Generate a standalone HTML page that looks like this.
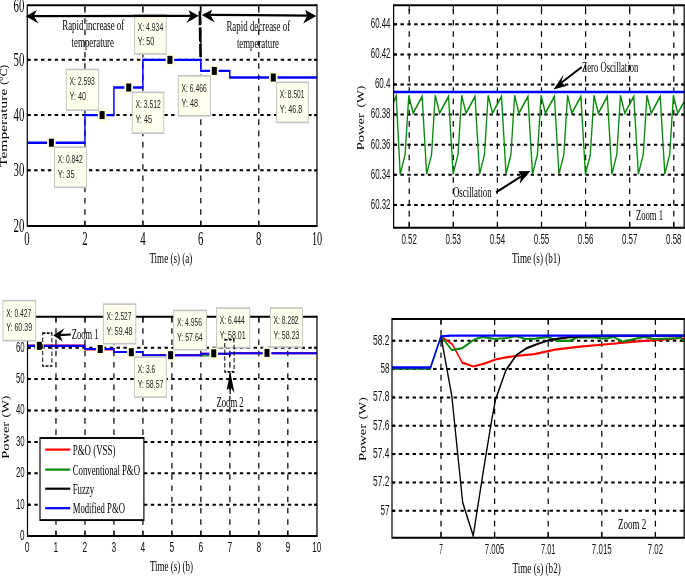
<!DOCTYPE html>
<html><head><meta charset="utf-8"><style>
html,body{margin:0;padding:0;background:#fff;}
body{width:685px;height:576px;overflow:hidden;}
svg{display:block;will-change:transform;}
</style></head><body>
<svg width="685" height="576" viewBox="0 0 685 576">
<rect x="0" y="0" width="685" height="576" fill="#fff"/>
<g transform="scale(0.61,1)">
<line x1="44.75" y1="59.85" x2="519.67" y2="59.85" stroke="#000" stroke-width="2" stroke-linecap="butt" stroke-dasharray="5.615 5.615"/>
<line x1="44.75" y1="115.1" x2="519.67" y2="115.1" stroke="#000" stroke-width="2" stroke-linecap="butt" stroke-dasharray="5.615 5.615"/>
<line x1="44.75" y1="170.35" x2="519.67" y2="170.35" stroke="#000" stroke-width="2" stroke-linecap="butt" stroke-dasharray="5.615 5.615"/>
<line x1="139.25" y1="226" x2="139.25" y2="5.3" stroke="#000" stroke-width="2" stroke-linecap="butt" stroke-dasharray="5.615 5.615"/>
<line x1="234.23" y1="226" x2="234.23" y2="5.3" stroke="#000" stroke-width="2" stroke-linecap="butt" stroke-dasharray="5.615 5.615"/>
<line x1="329.21" y1="226" x2="329.21" y2="5.3" stroke="#000" stroke-width="2" stroke-linecap="butt" stroke-dasharray="5.615 5.615"/>
<line x1="424.2" y1="226" x2="424.2" y2="5.3" stroke="#000" stroke-width="2" stroke-linecap="butt" stroke-dasharray="5.615 5.615"/>
<line x1="139.25" y1="5.3" x2="139.25" y2="10.3" stroke="#000" stroke-width="1.6" stroke-linecap="butt"/>
<line x1="139.25" y1="226" x2="139.25" y2="221" stroke="#000" stroke-width="1.6" stroke-linecap="butt"/>
<line x1="234.23" y1="5.3" x2="234.23" y2="10.3" stroke="#000" stroke-width="1.6" stroke-linecap="butt"/>
<line x1="234.23" y1="226" x2="234.23" y2="221" stroke="#000" stroke-width="1.6" stroke-linecap="butt"/>
<line x1="329.21" y1="5.3" x2="329.21" y2="10.3" stroke="#000" stroke-width="1.6" stroke-linecap="butt"/>
<line x1="329.21" y1="226" x2="329.21" y2="221" stroke="#000" stroke-width="1.6" stroke-linecap="butt"/>
<line x1="424.2" y1="5.3" x2="424.2" y2="10.3" stroke="#000" stroke-width="1.6" stroke-linecap="butt"/>
<line x1="424.2" y1="226" x2="424.2" y2="221" stroke="#000" stroke-width="1.6" stroke-linecap="butt"/>
<line x1="44.75" y1="59.85" x2="49.67" y2="59.85" stroke="#000" stroke-width="2" stroke-linecap="butt"/>
<line x1="519.67" y1="59.85" x2="514.75" y2="59.85" stroke="#000" stroke-width="2" stroke-linecap="butt"/>
<line x1="44.75" y1="115.1" x2="49.67" y2="115.1" stroke="#000" stroke-width="2" stroke-linecap="butt"/>
<line x1="519.67" y1="115.1" x2="514.75" y2="115.1" stroke="#000" stroke-width="2" stroke-linecap="butt"/>
<line x1="44.75" y1="170.35" x2="49.67" y2="170.35" stroke="#000" stroke-width="2" stroke-linecap="butt"/>
<line x1="519.67" y1="170.35" x2="514.75" y2="170.35" stroke="#000" stroke-width="2" stroke-linecap="butt"/>
<polyline points="44.75,142.72 139.25,142.72 139.25,115.1 186.74,115.1 186.74,87.47 234.23,87.47 234.23,59.85 329.21,59.85 329.21,70.9 376.7,70.9 376.7,77.53 519.67,77.53" fill="none" stroke="#0000FF" stroke-width="2.4" stroke-linejoin="miter"/>
<line x1="328.52" y1="5.3" x2="328.52" y2="11" stroke="#000" stroke-width="2" stroke-linecap="butt"/>
<line x1="327.54" y1="11.1" x2="328.85" y2="57" stroke="#000" stroke-width="4.3" stroke-linecap="butt" stroke-dasharray="14.2 2.1"/>
<line x1="44.75" y1="5.3" x2="519.67" y2="5.3" stroke="#000" stroke-width="2" stroke-linecap="butt"/>
<line x1="44.75" y1="226" x2="519.67" y2="226" stroke="#000" stroke-width="2" stroke-linecap="butt"/>
<line x1="44.75" y1="4.3" x2="44.75" y2="227" stroke="#000" stroke-width="2" stroke-linecap="butt"/>
<line x1="519.67" y1="4.3" x2="519.67" y2="227" stroke="#000" stroke-width="2" stroke-linecap="butt"/>
<rect x="77.2" y="136.92" width="14.1" height="12.6" fill="#FFFFE2" stroke="none" stroke-width="1"/>
<rect x="80.15" y="138.72" width="8.2" height="8" fill="#000" stroke="none" stroke-width="1"/>
<rect x="160.36" y="109.3" width="14.1" height="12.6" fill="#FFFFE2" stroke="none" stroke-width="1"/>
<rect x="163.31" y="111.1" width="8.2" height="8" fill="#000" stroke="none" stroke-width="1"/>
<rect x="204" y="81.67" width="14.1" height="12.6" fill="#FFFFE2" stroke="none" stroke-width="1"/>
<rect x="206.96" y="83.47" width="8.2" height="8" fill="#000" stroke="none" stroke-width="1"/>
<rect x="271.54" y="54.05" width="14.1" height="12.6" fill="#FFFFE2" stroke="none" stroke-width="1"/>
<rect x="274.49" y="55.85" width="8.2" height="8" fill="#000" stroke="none" stroke-width="1"/>
<rect x="344.3" y="65.1" width="14.1" height="12.6" fill="#FFFFE2" stroke="none" stroke-width="1"/>
<rect x="347.25" y="66.9" width="8.2" height="8" fill="#000" stroke="none" stroke-width="1"/>
<rect x="440.94" y="71.73" width="14.1" height="12.6" fill="#FFFFE2" stroke="none" stroke-width="1"/>
<rect x="443.89" y="73.53" width="8.2" height="8" fill="#000" stroke="none" stroke-width="1"/>
<rect x="89.51" y="147.2" width="52.13" height="40.1" fill="#FFFFEE" stroke="#C4C4C4" stroke-width="1.6"/>
<text x="94.75" y="163.2" font-family="&quot;Liberation Sans&quot;, sans-serif" font-size="11.5" fill="#222" text-anchor="start" textLength="40.98" lengthAdjust="spacingAndGlyphs">X: 0.842</text>
<text x="94.75" y="178" font-family="&quot;Liberation Sans&quot;, sans-serif" font-size="11.5" fill="#222" text-anchor="start" textLength="27.38" lengthAdjust="spacingAndGlyphs">Y: 35</text>
<rect x="108.69" y="69.5" width="53.11" height="40.6" fill="#FFFFEE" stroke="#C4C4C4" stroke-width="1.6"/>
<text x="113.93" y="85.5" font-family="&quot;Liberation Sans&quot;, sans-serif" font-size="11.5" fill="#222" text-anchor="start" textLength="41.64" lengthAdjust="spacingAndGlyphs">X: 2.593</text>
<text x="113.93" y="100.3" font-family="&quot;Liberation Sans&quot;, sans-serif" font-size="11.5" fill="#222" text-anchor="start" textLength="27.21" lengthAdjust="spacingAndGlyphs">Y: 40</text>
<rect x="216.72" y="92.4" width="51.8" height="40.8" fill="#FFFFEE" stroke="#C4C4C4" stroke-width="1.6"/>
<text x="221.97" y="108.4" font-family="&quot;Liberation Sans&quot;, sans-serif" font-size="11.5" fill="#222" text-anchor="start" textLength="41.64" lengthAdjust="spacingAndGlyphs">X: 3.512</text>
<text x="221.97" y="123.2" font-family="&quot;Liberation Sans&quot;, sans-serif" font-size="11.5" fill="#222" text-anchor="start" textLength="27.21" lengthAdjust="spacingAndGlyphs">Y: 45</text>
<rect x="220.66" y="14.6" width="51.8" height="39.4" fill="#FFFFEE" stroke="#C4C4C4" stroke-width="1.6"/>
<text x="225.9" y="30.6" font-family="&quot;Liberation Sans&quot;, sans-serif" font-size="11.5" fill="#222" text-anchor="start" textLength="41.64" lengthAdjust="spacingAndGlyphs">X: 4.934</text>
<text x="225.9" y="45.4" font-family="&quot;Liberation Sans&quot;, sans-serif" font-size="11.5" fill="#222" text-anchor="start" textLength="27.21" lengthAdjust="spacingAndGlyphs">Y: 50</text>
<rect x="292.3" y="75.8" width="52.79" height="40" fill="#FFFFEE" stroke="#C4C4C4" stroke-width="1.6"/>
<text x="297.54" y="91.8" font-family="&quot;Liberation Sans&quot;, sans-serif" font-size="11.5" fill="#222" text-anchor="start" textLength="41.64" lengthAdjust="spacingAndGlyphs">X: 6.466</text>
<text x="297.54" y="106.6" font-family="&quot;Liberation Sans&quot;, sans-serif" font-size="11.5" fill="#222" text-anchor="start" textLength="27.21" lengthAdjust="spacingAndGlyphs">Y: 48</text>
<rect x="453.44" y="82.3" width="52.13" height="40.1" fill="#FFFFEE" stroke="#C4C4C4" stroke-width="1.6"/>
<text x="458.69" y="98.3" font-family="&quot;Liberation Sans&quot;, sans-serif" font-size="11.5" fill="#222" text-anchor="start" textLength="40.33" lengthAdjust="spacingAndGlyphs">X: 8.501</text>
<text x="458.69" y="113.1" font-family="&quot;Liberation Sans&quot;, sans-serif" font-size="11.5" fill="#222" text-anchor="start" textLength="36.89" lengthAdjust="spacingAndGlyphs">Y: 46.8</text>
<line x1="50.82" y1="16.1" x2="314.75" y2="15.8" stroke="#000" stroke-width="2.2" stroke-linecap="butt"/>
<polygon points="42.3,16.2 60.33,10.1 55.25,16.1 63.11,23.5" fill="#000" stroke="none"/>
<polygon points="325.9,15.8 309.02,10.3 312.79,15.8 305.57,23.1" fill="#000" stroke="none"/>
<line x1="340.98" y1="14.8" x2="508.2" y2="15.6" stroke="#000" stroke-width="2.2" stroke-linecap="butt"/>
<polygon points="330.82,14.9 347.7,9.7 344.59,14.8 351.97,22.5" fill="#000" stroke="none"/>
<polygon points="518.52,16 500.33,9.9 503.61,15.7 497.05,23.4" fill="#000" stroke="none"/>
<text x="102.13" y="29.6" font-family="&quot;Liberation Serif&quot;, serif" font-size="14" fill="#000" text-anchor="start" textLength="101.48" lengthAdjust="spacingAndGlyphs">Rapid increase of</text>
<text x="117.38" y="46.6" font-family="&quot;Liberation Serif&quot;, serif" font-size="14" fill="#000" text-anchor="start" textLength="69.51" lengthAdjust="spacingAndGlyphs">temperature</text>
<text x="371.15" y="31" font-family="&quot;Liberation Serif&quot;, serif" font-size="14.3" fill="#000" text-anchor="start" textLength="104.59" lengthAdjust="spacingAndGlyphs">Rapid decrease of</text>
<text x="388.36" y="47.9" font-family="&quot;Liberation Serif&quot;, serif" font-size="14.3" fill="#000" text-anchor="start" textLength="69.02" lengthAdjust="spacingAndGlyphs">temperature</text>
<text x="39.84" y="11.6" font-family="&quot;Liberation Serif&quot;, serif" font-size="19" fill="#000" text-anchor="end" textLength="17.7" lengthAdjust="spacingAndGlyphs">60</text>
<text x="39.84" y="65.85" font-family="&quot;Liberation Serif&quot;, serif" font-size="19" fill="#000" text-anchor="end" textLength="17.7" lengthAdjust="spacingAndGlyphs">50</text>
<text x="39.84" y="121.1" font-family="&quot;Liberation Serif&quot;, serif" font-size="19" fill="#000" text-anchor="end" textLength="17.7" lengthAdjust="spacingAndGlyphs">40</text>
<text x="39.84" y="176.35" font-family="&quot;Liberation Serif&quot;, serif" font-size="19" fill="#000" text-anchor="end" textLength="17.7" lengthAdjust="spacingAndGlyphs">30</text>
<text x="39.84" y="231.6" font-family="&quot;Liberation Serif&quot;, serif" font-size="19" fill="#000" text-anchor="end" textLength="17.7" lengthAdjust="spacingAndGlyphs">20</text>
<text x="44.26" y="244.8" font-family="&quot;Liberation Serif&quot;, serif" font-size="19" fill="#000" text-anchor="middle" textLength="8.85" lengthAdjust="spacingAndGlyphs">0</text>
<text x="139.25" y="244.8" font-family="&quot;Liberation Serif&quot;, serif" font-size="19" fill="#000" text-anchor="middle" textLength="8.85" lengthAdjust="spacingAndGlyphs">2</text>
<text x="234.23" y="244.8" font-family="&quot;Liberation Serif&quot;, serif" font-size="19" fill="#000" text-anchor="middle" textLength="8.85" lengthAdjust="spacingAndGlyphs">4</text>
<text x="329.21" y="244.8" font-family="&quot;Liberation Serif&quot;, serif" font-size="19" fill="#000" text-anchor="middle" textLength="8.85" lengthAdjust="spacingAndGlyphs">6</text>
<text x="424.2" y="244.8" font-family="&quot;Liberation Serif&quot;, serif" font-size="19" fill="#000" text-anchor="middle" textLength="8.85" lengthAdjust="spacingAndGlyphs">8</text>
<text x="519.67" y="244.8" font-family="&quot;Liberation Serif&quot;, serif" font-size="19" fill="#000" text-anchor="middle" textLength="16.72" lengthAdjust="spacingAndGlyphs">10</text>
<text x="244.92" y="262.8" font-family="&quot;Liberation Serif&quot;, serif" font-size="15" fill="#000" text-anchor="start" textLength="70.33" lengthAdjust="spacingAndGlyphs">Time (s) (a)</text>
<text transform="translate(10.82,167) rotate(-90)" x="0" y="0" font-family="&quot;Liberation Serif&quot;, serif" font-size="16" fill="#000" text-anchor="start" textLength="78.4" lengthAdjust="spacingAndGlyphs">Temperature</text>
<text transform="translate(10.82,84.8) rotate(-90)" x="0" y="0" font-family="&quot;Liberation Serif&quot;, serif" font-size="16" fill="#000" text-anchor="start" textLength="20" lengthAdjust="spacingAndGlyphs">(°C)</text>
<line x1="645.25" y1="24.3" x2="1121.64" y2="24.3" stroke="#000" stroke-width="2" stroke-linecap="butt" stroke-dasharray="5.615 5.615"/>
<line x1="645.25" y1="54.4" x2="1121.64" y2="54.4" stroke="#000" stroke-width="2" stroke-linecap="butt" stroke-dasharray="5.615 5.615"/>
<line x1="645.25" y1="84.5" x2="1121.64" y2="84.5" stroke="#000" stroke-width="2" stroke-linecap="butt" stroke-dasharray="5.615 5.615"/>
<line x1="645.25" y1="114.6" x2="1121.64" y2="114.6" stroke="#000" stroke-width="2" stroke-linecap="butt" stroke-dasharray="5.615 5.615"/>
<line x1="645.25" y1="144.7" x2="1121.64" y2="144.7" stroke="#000" stroke-width="2" stroke-linecap="butt" stroke-dasharray="5.615 5.615"/>
<line x1="645.25" y1="174.8" x2="1121.64" y2="174.8" stroke="#000" stroke-width="2" stroke-linecap="butt" stroke-dasharray="5.615 5.615"/>
<line x1="645.25" y1="204.9" x2="1121.64" y2="204.9" stroke="#000" stroke-width="2" stroke-linecap="butt" stroke-dasharray="5.615 5.615"/>
<line x1="670.82" y1="227.7" x2="670.82" y2="5.3" stroke="#000" stroke-width="2" stroke-linecap="butt" stroke-dasharray="5.615 5.615"/>
<line x1="743.11" y1="227.7" x2="743.11" y2="5.3" stroke="#000" stroke-width="2" stroke-linecap="butt" stroke-dasharray="5.615 5.615"/>
<line x1="815.41" y1="227.7" x2="815.41" y2="5.3" stroke="#000" stroke-width="2" stroke-linecap="butt" stroke-dasharray="5.615 5.615"/>
<line x1="887.7" y1="227.7" x2="887.7" y2="5.3" stroke="#000" stroke-width="2" stroke-linecap="butt" stroke-dasharray="5.615 5.615"/>
<line x1="960" y1="227.7" x2="960" y2="5.3" stroke="#000" stroke-width="2" stroke-linecap="butt" stroke-dasharray="5.615 5.615"/>
<line x1="1032.3" y1="227.7" x2="1032.3" y2="5.3" stroke="#000" stroke-width="2" stroke-linecap="butt" stroke-dasharray="5.615 5.615"/>
<line x1="1104.59" y1="227.7" x2="1104.59" y2="5.3" stroke="#000" stroke-width="2" stroke-linecap="butt" stroke-dasharray="5.615 5.615"/>
<line x1="670.82" y1="5.3" x2="670.82" y2="11.3" stroke="#000" stroke-width="1.6" stroke-linecap="butt"/>
<line x1="670.82" y1="227.7" x2="670.82" y2="221.7" stroke="#000" stroke-width="1.6" stroke-linecap="butt"/>
<line x1="743.11" y1="5.3" x2="743.11" y2="11.3" stroke="#000" stroke-width="1.6" stroke-linecap="butt"/>
<line x1="743.11" y1="227.7" x2="743.11" y2="221.7" stroke="#000" stroke-width="1.6" stroke-linecap="butt"/>
<line x1="815.41" y1="5.3" x2="815.41" y2="11.3" stroke="#000" stroke-width="1.6" stroke-linecap="butt"/>
<line x1="815.41" y1="227.7" x2="815.41" y2="221.7" stroke="#000" stroke-width="1.6" stroke-linecap="butt"/>
<line x1="887.7" y1="5.3" x2="887.7" y2="11.3" stroke="#000" stroke-width="1.6" stroke-linecap="butt"/>
<line x1="887.7" y1="227.7" x2="887.7" y2="221.7" stroke="#000" stroke-width="1.6" stroke-linecap="butt"/>
<line x1="960" y1="5.3" x2="960" y2="11.3" stroke="#000" stroke-width="1.6" stroke-linecap="butt"/>
<line x1="960" y1="227.7" x2="960" y2="221.7" stroke="#000" stroke-width="1.6" stroke-linecap="butt"/>
<line x1="1032.3" y1="5.3" x2="1032.3" y2="11.3" stroke="#000" stroke-width="1.6" stroke-linecap="butt"/>
<line x1="1032.3" y1="227.7" x2="1032.3" y2="221.7" stroke="#000" stroke-width="1.6" stroke-linecap="butt"/>
<line x1="1104.59" y1="5.3" x2="1104.59" y2="11.3" stroke="#000" stroke-width="1.6" stroke-linecap="butt"/>
<line x1="1104.59" y1="227.7" x2="1104.59" y2="221.7" stroke="#000" stroke-width="1.6" stroke-linecap="butt"/>
<line x1="645.25" y1="24.3" x2="650.16" y2="24.3" stroke="#000" stroke-width="2" stroke-linecap="butt"/>
<line x1="1121.64" y1="24.3" x2="1116.72" y2="24.3" stroke="#000" stroke-width="2" stroke-linecap="butt"/>
<line x1="645.25" y1="54.4" x2="650.16" y2="54.4" stroke="#000" stroke-width="2" stroke-linecap="butt"/>
<line x1="1121.64" y1="54.4" x2="1116.72" y2="54.4" stroke="#000" stroke-width="2" stroke-linecap="butt"/>
<line x1="645.25" y1="84.5" x2="650.16" y2="84.5" stroke="#000" stroke-width="2" stroke-linecap="butt"/>
<line x1="1121.64" y1="84.5" x2="1116.72" y2="84.5" stroke="#000" stroke-width="2" stroke-linecap="butt"/>
<line x1="645.25" y1="114.6" x2="650.16" y2="114.6" stroke="#000" stroke-width="2" stroke-linecap="butt"/>
<line x1="1121.64" y1="114.6" x2="1116.72" y2="114.6" stroke="#000" stroke-width="2" stroke-linecap="butt"/>
<line x1="645.25" y1="144.7" x2="650.16" y2="144.7" stroke="#000" stroke-width="2" stroke-linecap="butt"/>
<line x1="1121.64" y1="144.7" x2="1116.72" y2="144.7" stroke="#000" stroke-width="2" stroke-linecap="butt"/>
<line x1="645.25" y1="174.8" x2="650.16" y2="174.8" stroke="#000" stroke-width="2" stroke-linecap="butt"/>
<line x1="1121.64" y1="174.8" x2="1116.72" y2="174.8" stroke="#000" stroke-width="2" stroke-linecap="butt"/>
<line x1="645.25" y1="204.9" x2="650.16" y2="204.9" stroke="#000" stroke-width="2" stroke-linecap="butt"/>
<line x1="1121.64" y1="204.9" x2="1116.72" y2="204.9" stroke="#000" stroke-width="2" stroke-linecap="butt"/>
<polyline points="645.74,101.5 649.51,95.8 656.07,174.2 664.1,154.6 670.16,95.3 677.21,113.2 691.97,96.4 699.44,174.2 707.48,154.6 713.54,95.3 720.59,113.2 735.34,96.4 742.82,174.2 750.85,154.6 756.92,95.3 763.97,113.2 778.72,96.4 786.2,174.2 794.23,154.6 800.3,95.3 807.34,113.2 822.1,96.4 829.57,174.2 837.61,154.6 843.67,95.3 850.72,113.2 865.48,96.4 872.95,174.2 880.98,154.6 887.05,95.3 894.1,113.2 908.85,96.4 916.33,174.2 924.36,154.6 930.43,95.3 937.48,113.2 952.23,96.4 959.7,174.2 967.74,154.6 973.8,95.3 980.85,113.2 995.61,96.4 1003.08,174.2 1011.11,154.6 1017.18,95.3 1024.23,113.2 1038.98,96.4 1046.46,174.2 1054.49,154.6 1060.56,95.3 1067.61,113.2 1082.36,96.4 1089.84,174.2 1097.87,154.6 1103.93,95.3 1110.98,113.2 1121.64,101.7" fill="none" stroke="#0A8A0A" stroke-width="2.2" stroke-linejoin="miter"/>
<line x1="645.25" y1="92" x2="1121.64" y2="92" stroke="#0000FF" stroke-width="2.3" stroke-linecap="butt"/>
<line x1="645.25" y1="5.3" x2="1121.64" y2="5.3" stroke="#000" stroke-width="2" stroke-linecap="butt"/>
<line x1="645.25" y1="227.7" x2="1121.64" y2="227.7" stroke="#000" stroke-width="2" stroke-linecap="butt"/>
<line x1="645.25" y1="4.3" x2="645.25" y2="228.7" stroke="#000" stroke-width="2" stroke-linecap="butt"/>
<line x1="1121.64" y1="4.3" x2="1121.64" y2="228.7" stroke="#000" stroke-width="2" stroke-linecap="butt"/>
<text x="954.1" y="71.8" font-family="&quot;Liberation Serif&quot;, serif" font-size="14.5" fill="#000" text-anchor="start" textLength="92.3" lengthAdjust="spacingAndGlyphs">Zero Oscillation</text>
<line x1="953.61" y1="67" x2="919.67" y2="83" stroke="#000" stroke-width="2.2" stroke-linecap="butt"/>
<polygon points="907.38,89.6 923.77,74.6 920.16,82.4 928.36,86.1" fill="#000" stroke="none"/>
<text x="742.62" y="196.8" font-family="&quot;Liberation Serif&quot;, serif" font-size="14" fill="#000" text-anchor="start" textLength="63.44" lengthAdjust="spacingAndGlyphs">Oscillation</text>
<line x1="813.11" y1="192.4" x2="854.1" y2="176.5" stroke="#000" stroke-width="2.2" stroke-linecap="butt"/>
<polygon points="869.34,171 849.67,171.2 854.1,175.6 852.3,183.4" fill="#000" stroke="none"/>
<text x="1042.62" y="220.4" font-family="&quot;Liberation Serif&quot;, serif" font-size="14" fill="#000" text-anchor="start" textLength="44.26" lengthAdjust="spacingAndGlyphs">Zoom 1</text>
<text x="640.16" y="28.2" font-family="&quot;Liberation Sans&quot;, sans-serif" font-size="14" fill="#111" text-anchor="end" textLength="32.3" lengthAdjust="spacingAndGlyphs">60.44</text>
<text x="640.16" y="58.3" font-family="&quot;Liberation Sans&quot;, sans-serif" font-size="14" fill="#111" text-anchor="end" textLength="32.3" lengthAdjust="spacingAndGlyphs">60.42</text>
<text x="640.16" y="88.4" font-family="&quot;Liberation Sans&quot;, sans-serif" font-size="14" fill="#111" text-anchor="end" textLength="25.57" lengthAdjust="spacingAndGlyphs">60.4</text>
<text x="640.16" y="118.5" font-family="&quot;Liberation Sans&quot;, sans-serif" font-size="14" fill="#111" text-anchor="end" textLength="32.3" lengthAdjust="spacingAndGlyphs">60.38</text>
<text x="640.16" y="148.6" font-family="&quot;Liberation Sans&quot;, sans-serif" font-size="14" fill="#111" text-anchor="end" textLength="32.3" lengthAdjust="spacingAndGlyphs">60.36</text>
<text x="640.16" y="178.7" font-family="&quot;Liberation Sans&quot;, sans-serif" font-size="14" fill="#111" text-anchor="end" textLength="32.3" lengthAdjust="spacingAndGlyphs">60.34</text>
<text x="640.16" y="208.8" font-family="&quot;Liberation Sans&quot;, sans-serif" font-size="14" fill="#111" text-anchor="end" textLength="32.3" lengthAdjust="spacingAndGlyphs">60.32</text>
<text x="670.82" y="243.8" font-family="&quot;Liberation Sans&quot;, sans-serif" font-size="14" fill="#111" text-anchor="middle" textLength="25.41" lengthAdjust="spacingAndGlyphs">0.52</text>
<text x="743.11" y="243.8" font-family="&quot;Liberation Sans&quot;, sans-serif" font-size="14" fill="#111" text-anchor="middle" textLength="25.41" lengthAdjust="spacingAndGlyphs">0.53</text>
<text x="815.41" y="243.8" font-family="&quot;Liberation Sans&quot;, sans-serif" font-size="14" fill="#111" text-anchor="middle" textLength="25.41" lengthAdjust="spacingAndGlyphs">0.54</text>
<text x="887.7" y="243.8" font-family="&quot;Liberation Sans&quot;, sans-serif" font-size="14" fill="#111" text-anchor="middle" textLength="25.41" lengthAdjust="spacingAndGlyphs">0.55</text>
<text x="960" y="243.8" font-family="&quot;Liberation Sans&quot;, sans-serif" font-size="14" fill="#111" text-anchor="middle" textLength="25.41" lengthAdjust="spacingAndGlyphs">0.56</text>
<text x="1032.3" y="243.8" font-family="&quot;Liberation Sans&quot;, sans-serif" font-size="14" fill="#111" text-anchor="middle" textLength="25.41" lengthAdjust="spacingAndGlyphs">0.57</text>
<text x="1104.59" y="243.8" font-family="&quot;Liberation Sans&quot;, sans-serif" font-size="14" fill="#111" text-anchor="middle" textLength="25.41" lengthAdjust="spacingAndGlyphs">0.58</text>
<text x="839.51" y="263" font-family="&quot;Liberation Serif&quot;, serif" font-size="15" fill="#000" text-anchor="start" textLength="79.18" lengthAdjust="spacingAndGlyphs">Time (s) (b1)</text>
<text transform="translate(596.56,150.2) rotate(-90)" x="0" y="0" font-family="&quot;Liberation Serif&quot;, serif" font-size="16" fill="#000" text-anchor="start" textLength="37" lengthAdjust="spacingAndGlyphs">Power</text>
<text transform="translate(596.56,107.6) rotate(-90)" x="0" y="0" font-family="&quot;Liberation Serif&quot;, serif" font-size="16" fill="#000" text-anchor="start" textLength="21.9" lengthAdjust="spacingAndGlyphs">(W)</text>
<line x1="45.08" y1="347.7" x2="519.67" y2="347.7" stroke="#000" stroke-width="2" stroke-linecap="butt" stroke-dasharray="5.615 5.615"/>
<line x1="45.08" y1="379.1" x2="519.67" y2="379.1" stroke="#000" stroke-width="2" stroke-linecap="butt" stroke-dasharray="5.615 5.615"/>
<line x1="45.08" y1="410.5" x2="519.67" y2="410.5" stroke="#000" stroke-width="2" stroke-linecap="butt" stroke-dasharray="5.615 5.615"/>
<line x1="45.08" y1="441.9" x2="519.67" y2="441.9" stroke="#000" stroke-width="2" stroke-linecap="butt" stroke-dasharray="5.615 5.615"/>
<line x1="45.08" y1="473.3" x2="519.67" y2="473.3" stroke="#000" stroke-width="2" stroke-linecap="butt" stroke-dasharray="5.615 5.615"/>
<line x1="45.08" y1="504.7" x2="519.67" y2="504.7" stroke="#000" stroke-width="2" stroke-linecap="butt" stroke-dasharray="5.615 5.615"/>
<line x1="91.77" y1="536" x2="91.77" y2="316.8" stroke="#000" stroke-width="2" stroke-linecap="butt" stroke-dasharray="5.615 5.615"/>
<line x1="139.28" y1="536" x2="139.28" y2="316.8" stroke="#000" stroke-width="2" stroke-linecap="butt" stroke-dasharray="5.615 5.615"/>
<line x1="186.79" y1="536" x2="186.79" y2="316.8" stroke="#000" stroke-width="2" stroke-linecap="butt" stroke-dasharray="5.615 5.615"/>
<line x1="234.3" y1="536" x2="234.3" y2="316.8" stroke="#000" stroke-width="2" stroke-linecap="butt" stroke-dasharray="5.615 5.615"/>
<line x1="281.8" y1="536" x2="281.8" y2="316.8" stroke="#000" stroke-width="2" stroke-linecap="butt" stroke-dasharray="5.615 5.615"/>
<line x1="329.31" y1="536" x2="329.31" y2="316.8" stroke="#000" stroke-width="2" stroke-linecap="butt" stroke-dasharray="5.615 5.615"/>
<line x1="376.82" y1="536" x2="376.82" y2="316.8" stroke="#000" stroke-width="2" stroke-linecap="butt" stroke-dasharray="5.615 5.615"/>
<line x1="424.33" y1="536" x2="424.33" y2="316.8" stroke="#000" stroke-width="2" stroke-linecap="butt" stroke-dasharray="5.615 5.615"/>
<line x1="471.84" y1="536" x2="471.84" y2="316.8" stroke="#000" stroke-width="2" stroke-linecap="butt" stroke-dasharray="5.615 5.615"/>
<line x1="91.77" y1="316.8" x2="91.77" y2="321.8" stroke="#000" stroke-width="1.6" stroke-linecap="butt"/>
<line x1="91.77" y1="536" x2="91.77" y2="531" stroke="#000" stroke-width="1.6" stroke-linecap="butt"/>
<line x1="139.28" y1="316.8" x2="139.28" y2="321.8" stroke="#000" stroke-width="1.6" stroke-linecap="butt"/>
<line x1="139.28" y1="536" x2="139.28" y2="531" stroke="#000" stroke-width="1.6" stroke-linecap="butt"/>
<line x1="186.79" y1="316.8" x2="186.79" y2="321.8" stroke="#000" stroke-width="1.6" stroke-linecap="butt"/>
<line x1="186.79" y1="536" x2="186.79" y2="531" stroke="#000" stroke-width="1.6" stroke-linecap="butt"/>
<line x1="234.3" y1="316.8" x2="234.3" y2="321.8" stroke="#000" stroke-width="1.6" stroke-linecap="butt"/>
<line x1="234.3" y1="536" x2="234.3" y2="531" stroke="#000" stroke-width="1.6" stroke-linecap="butt"/>
<line x1="281.8" y1="316.8" x2="281.8" y2="321.8" stroke="#000" stroke-width="1.6" stroke-linecap="butt"/>
<line x1="281.8" y1="536" x2="281.8" y2="531" stroke="#000" stroke-width="1.6" stroke-linecap="butt"/>
<line x1="329.31" y1="316.8" x2="329.31" y2="321.8" stroke="#000" stroke-width="1.6" stroke-linecap="butt"/>
<line x1="329.31" y1="536" x2="329.31" y2="531" stroke="#000" stroke-width="1.6" stroke-linecap="butt"/>
<line x1="376.82" y1="316.8" x2="376.82" y2="321.8" stroke="#000" stroke-width="1.6" stroke-linecap="butt"/>
<line x1="376.82" y1="536" x2="376.82" y2="531" stroke="#000" stroke-width="1.6" stroke-linecap="butt"/>
<line x1="424.33" y1="316.8" x2="424.33" y2="321.8" stroke="#000" stroke-width="1.6" stroke-linecap="butt"/>
<line x1="424.33" y1="536" x2="424.33" y2="531" stroke="#000" stroke-width="1.6" stroke-linecap="butt"/>
<line x1="471.84" y1="316.8" x2="471.84" y2="321.8" stroke="#000" stroke-width="1.6" stroke-linecap="butt"/>
<line x1="471.84" y1="536" x2="471.84" y2="531" stroke="#000" stroke-width="1.6" stroke-linecap="butt"/>
<line x1="45.08" y1="347.7" x2="50" y2="347.7" stroke="#000" stroke-width="2" stroke-linecap="butt"/>
<line x1="519.67" y1="347.7" x2="514.75" y2="347.7" stroke="#000" stroke-width="2" stroke-linecap="butt"/>
<line x1="45.08" y1="379.1" x2="50" y2="379.1" stroke="#000" stroke-width="2" stroke-linecap="butt"/>
<line x1="519.67" y1="379.1" x2="514.75" y2="379.1" stroke="#000" stroke-width="2" stroke-linecap="butt"/>
<line x1="45.08" y1="410.5" x2="50" y2="410.5" stroke="#000" stroke-width="2" stroke-linecap="butt"/>
<line x1="519.67" y1="410.5" x2="514.75" y2="410.5" stroke="#000" stroke-width="2" stroke-linecap="butt"/>
<line x1="45.08" y1="441.9" x2="50" y2="441.9" stroke="#000" stroke-width="2" stroke-linecap="butt"/>
<line x1="519.67" y1="441.9" x2="514.75" y2="441.9" stroke="#000" stroke-width="2" stroke-linecap="butt"/>
<line x1="45.08" y1="473.3" x2="50" y2="473.3" stroke="#000" stroke-width="2" stroke-linecap="butt"/>
<line x1="519.67" y1="473.3" x2="514.75" y2="473.3" stroke="#000" stroke-width="2" stroke-linecap="butt"/>
<line x1="45.08" y1="504.7" x2="50" y2="504.7" stroke="#000" stroke-width="2" stroke-linecap="butt"/>
<line x1="519.67" y1="504.7" x2="514.75" y2="504.7" stroke="#000" stroke-width="2" stroke-linecap="butt"/>
<polyline points="45.08,345.9 139.28,345.9 139.28,349 186.79,349 186.79,352 234.3,352 234.3,355.3 329.31,355.3 329.31,353.7 376.82,353.7 376.82,353.2 519.67,353.2" fill="none" stroke="#FF0000" stroke-width="2" stroke-linejoin="miter"/>
<polyline points="45.08,345.6 139.28,345.6" fill="none" stroke="#FF0000" stroke-width="2" stroke-linejoin="miter"/>
<polyline points="139.28,349.5 186.79,349.5" fill="none" stroke="#FF0000" stroke-width="2" stroke-linejoin="miter"/>
<polyline points="328.49,355.3 330.95,356 334.23,355.6 337.51,356.1 340.79,355.6 344.07,355.9" fill="none" stroke="#0A8A0A" stroke-width="1.4" stroke-linejoin="miter"/>
<polyline points="375.84,353.2 376.49,357.4 377.48,353.2" fill="none" stroke="#000" stroke-width="1.6" stroke-linejoin="miter"/>
<polyline points="45.08,345.9 139.28,345.9 139.28,349 186.79,349 186.79,352 234.3,352 234.3,355.3 329.31,355.3 329.31,353.7 376.82,353.7 376.82,353.2 519.67,353.2" fill="none" stroke="#0000FF" stroke-width="2.1" stroke-linejoin="miter"/>
<line x1="45.08" y1="316.8" x2="519.67" y2="316.8" stroke="#000" stroke-width="2" stroke-linecap="butt"/>
<line x1="45.08" y1="536" x2="519.67" y2="536" stroke="#000" stroke-width="2" stroke-linecap="butt"/>
<line x1="45.08" y1="315.8" x2="45.08" y2="537" stroke="#000" stroke-width="2" stroke-linecap="butt"/>
<line x1="519.67" y1="315.8" x2="519.67" y2="537" stroke="#000" stroke-width="2" stroke-linecap="butt"/>
<rect x="65.57" y="438" width="170.33" height="82.1" fill="#FFFFFF" stroke="#000" stroke-width="1.9"/>
<line x1="74.1" y1="449.6" x2="115.08" y2="449.6" stroke="#FF0000" stroke-width="2.2" stroke-linecap="butt"/>
<line x1="74.1" y1="469.6" x2="115.08" y2="469.6" stroke="#0A8A0A" stroke-width="2.2" stroke-linecap="butt"/>
<line x1="74.1" y1="488.7" x2="115.08" y2="488.7" stroke="#000000" stroke-width="2.2" stroke-linecap="butt"/>
<line x1="74.1" y1="508.2" x2="115.08" y2="508.2" stroke="#0000FF" stroke-width="2.2" stroke-linecap="butt"/>
<text x="119.18" y="454.7" font-family="&quot;Liberation Serif&quot;, serif" font-size="14" fill="#000" text-anchor="start" textLength="70" lengthAdjust="spacingAndGlyphs">P&amp;O (VSS)</text>
<text x="119.18" y="474.6" font-family="&quot;Liberation Serif&quot;, serif" font-size="14" fill="#000" text-anchor="start" textLength="110.33" lengthAdjust="spacingAndGlyphs">Conventional P&amp;O</text>
<text x="119.18" y="493.6" font-family="&quot;Liberation Serif&quot;, serif" font-size="14" fill="#000" text-anchor="start" textLength="34.92" lengthAdjust="spacingAndGlyphs">Fuzzy</text>
<text x="119.18" y="513.4" font-family="&quot;Liberation Serif&quot;, serif" font-size="14" fill="#000" text-anchor="start" textLength="85.57" lengthAdjust="spacingAndGlyphs">Modified P&amp;O</text>
<rect x="57.5" y="340" width="14.1" height="12.6" fill="#FFFFE2" stroke="none" stroke-width="1"/>
<rect x="60.45" y="341.8" width="8.2" height="8" fill="#000" stroke="none" stroke-width="1"/>
<rect x="157.27" y="343.2" width="14.1" height="12.6" fill="#FFFFE2" stroke="none" stroke-width="1"/>
<rect x="160.22" y="345" width="8.2" height="8" fill="#000" stroke="none" stroke-width="1"/>
<rect x="208.24" y="346.4" width="14.1" height="12.6" fill="#FFFFE2" stroke="none" stroke-width="1"/>
<rect x="211.19" y="348.2" width="8.2" height="8" fill="#000" stroke="none" stroke-width="1"/>
<rect x="272.66" y="349.4" width="14.1" height="12.6" fill="#FFFFE2" stroke="none" stroke-width="1"/>
<rect x="275.61" y="351.2" width="8.2" height="8" fill="#000" stroke="none" stroke-width="1"/>
<rect x="343.36" y="347.5" width="14.1" height="12.6" fill="#FFFFE2" stroke="none" stroke-width="1"/>
<rect x="346.31" y="349.3" width="8.2" height="8" fill="#000" stroke="none" stroke-width="1"/>
<rect x="430.68" y="347.1" width="14.1" height="12.6" fill="#FFFFE2" stroke="none" stroke-width="1"/>
<rect x="433.63" y="348.9" width="8.2" height="8" fill="#000" stroke="none" stroke-width="1"/>
<rect x="4.92" y="300.6" width="53.44" height="40" fill="#FFFFEE" stroke="#C4C4C4" stroke-width="1.6"/>
<text x="10.16" y="316.6" font-family="&quot;Liberation Sans&quot;, sans-serif" font-size="11.5" fill="#222" text-anchor="start" textLength="40.98" lengthAdjust="spacingAndGlyphs">X: 0.427</text>
<text x="10.16" y="331.4" font-family="&quot;Liberation Sans&quot;, sans-serif" font-size="11.5" fill="#222" text-anchor="start" textLength="42.46" lengthAdjust="spacingAndGlyphs">Y: 60.39</text>
<rect x="169.51" y="304.1" width="53.11" height="39.6" fill="#FFFFEE" stroke="#C4C4C4" stroke-width="1.6"/>
<text x="174.75" y="320.1" font-family="&quot;Liberation Sans&quot;, sans-serif" font-size="11.5" fill="#222" text-anchor="start" textLength="40.98" lengthAdjust="spacingAndGlyphs">X: 2.527</text>
<text x="174.75" y="334.9" font-family="&quot;Liberation Sans&quot;, sans-serif" font-size="11.5" fill="#222" text-anchor="start" textLength="42.46" lengthAdjust="spacingAndGlyphs">Y: 59.48</text>
<rect x="220.49" y="357" width="52.13" height="40.1" fill="#FFFFEE" stroke="#C4C4C4" stroke-width="1.6"/>
<text x="225.74" y="373" font-family="&quot;Liberation Sans&quot;, sans-serif" font-size="11.5" fill="#222" text-anchor="start" textLength="28.85" lengthAdjust="spacingAndGlyphs">X: 3.6</text>
<text x="225.74" y="387.8" font-family="&quot;Liberation Sans&quot;, sans-serif" font-size="11.5" fill="#222" text-anchor="start" textLength="42.3" lengthAdjust="spacingAndGlyphs">Y: 58.57</text>
<rect x="284.75" y="310.4" width="53.61" height="39.3" fill="#FFFFEE" stroke="#C4C4C4" stroke-width="1.6"/>
<text x="290" y="326.4" font-family="&quot;Liberation Sans&quot;, sans-serif" font-size="11.5" fill="#222" text-anchor="start" textLength="40.98" lengthAdjust="spacingAndGlyphs">X: 4.956</text>
<text x="290" y="341.2" font-family="&quot;Liberation Sans&quot;, sans-serif" font-size="11.5" fill="#222" text-anchor="start" textLength="42.46" lengthAdjust="spacingAndGlyphs">Y: 57.64</text>
<rect x="355.08" y="308.1" width="54.26" height="39.5" fill="#FFFFEE" stroke="#C4C4C4" stroke-width="1.6"/>
<text x="360.33" y="324.1" font-family="&quot;Liberation Sans&quot;, sans-serif" font-size="11.5" fill="#222" text-anchor="start" textLength="40.98" lengthAdjust="spacingAndGlyphs">X: 6.444</text>
<text x="360.33" y="338.9" font-family="&quot;Liberation Sans&quot;, sans-serif" font-size="11.5" fill="#222" text-anchor="start" textLength="42.46" lengthAdjust="spacingAndGlyphs">Y: 58.01</text>
<rect x="443.28" y="308" width="52.62" height="39" fill="#FFFFEE" stroke="#C4C4C4" stroke-width="1.6"/>
<text x="448.52" y="324" font-family="&quot;Liberation Sans&quot;, sans-serif" font-size="11.5" fill="#222" text-anchor="start" textLength="40.98" lengthAdjust="spacingAndGlyphs">X: 8.282</text>
<text x="448.52" y="338.8" font-family="&quot;Liberation Sans&quot;, sans-serif" font-size="11.5" fill="#222" text-anchor="start" textLength="42.46" lengthAdjust="spacingAndGlyphs">Y: 58.23</text>
<rect x="70" y="333.1" width="15.08" height="32.9" fill="none" stroke="#000" stroke-width="1.6" stroke-dasharray="4.5 2.2"/>
<line x1="96.72" y1="335.1" x2="116.07" y2="334.5" stroke="#000" stroke-width="2.2" stroke-linecap="butt"/>
<polygon points="87.21,335.3 105.9,328.2 98.36,335.1 102.62,341.6" fill="#000" stroke="none"/>
<text x="117.7" y="338.9" font-family="&quot;Liberation Serif&quot;, serif" font-size="14" fill="#000" text-anchor="start" textLength="43.61" lengthAdjust="spacingAndGlyphs">Zoom 1</text>
<rect x="368.52" y="339.8" width="15.25" height="32.1" fill="none" stroke="#000" stroke-width="1.6" stroke-dasharray="4.5 2.2"/>
<line x1="377.54" y1="386" x2="377.38" y2="394" stroke="#000" stroke-width="2" stroke-linecap="butt"/>
<polygon points="377.38,371.6 371.64,390 377.87,387.3 384.43,393" fill="#000" stroke="none"/>
<text x="354.75" y="406.9" font-family="&quot;Liberation Serif&quot;, serif" font-size="14" fill="#000" text-anchor="start" textLength="44.75" lengthAdjust="spacingAndGlyphs">Zoom 2</text>
<text x="40.33" y="351.7" font-family="&quot;Liberation Sans&quot;, sans-serif" font-size="14" fill="#111" text-anchor="end" textLength="14.26" lengthAdjust="spacingAndGlyphs">60</text>
<text x="40.33" y="383.1" font-family="&quot;Liberation Sans&quot;, sans-serif" font-size="14" fill="#111" text-anchor="end" textLength="14.26" lengthAdjust="spacingAndGlyphs">50</text>
<text x="40.33" y="414.5" font-family="&quot;Liberation Sans&quot;, sans-serif" font-size="14" fill="#111" text-anchor="end" textLength="14.26" lengthAdjust="spacingAndGlyphs">40</text>
<text x="40.33" y="445.9" font-family="&quot;Liberation Sans&quot;, sans-serif" font-size="14" fill="#111" text-anchor="end" textLength="14.26" lengthAdjust="spacingAndGlyphs">30</text>
<text x="40.33" y="477.3" font-family="&quot;Liberation Sans&quot;, sans-serif" font-size="14" fill="#111" text-anchor="end" textLength="14.26" lengthAdjust="spacingAndGlyphs">20</text>
<text x="40.33" y="508.7" font-family="&quot;Liberation Sans&quot;, sans-serif" font-size="14" fill="#111" text-anchor="end" textLength="14.26" lengthAdjust="spacingAndGlyphs">10</text>
<text x="40.33" y="540.1" font-family="&quot;Liberation Sans&quot;, sans-serif" font-size="14" fill="#111" text-anchor="end" textLength="7.38" lengthAdjust="spacingAndGlyphs">0</text>
<text x="44.26" y="551.8" font-family="&quot;Liberation Sans&quot;, sans-serif" font-size="14" fill="#111" text-anchor="middle" textLength="7.7" lengthAdjust="spacingAndGlyphs">0</text>
<text x="91.77" y="551.8" font-family="&quot;Liberation Sans&quot;, sans-serif" font-size="14" fill="#111" text-anchor="middle" textLength="7.7" lengthAdjust="spacingAndGlyphs">1</text>
<text x="139.28" y="551.8" font-family="&quot;Liberation Sans&quot;, sans-serif" font-size="14" fill="#111" text-anchor="middle" textLength="7.7" lengthAdjust="spacingAndGlyphs">2</text>
<text x="186.79" y="551.8" font-family="&quot;Liberation Sans&quot;, sans-serif" font-size="14" fill="#111" text-anchor="middle" textLength="7.7" lengthAdjust="spacingAndGlyphs">3</text>
<text x="234.3" y="551.8" font-family="&quot;Liberation Sans&quot;, sans-serif" font-size="14" fill="#111" text-anchor="middle" textLength="7.7" lengthAdjust="spacingAndGlyphs">4</text>
<text x="281.8" y="551.8" font-family="&quot;Liberation Sans&quot;, sans-serif" font-size="14" fill="#111" text-anchor="middle" textLength="7.7" lengthAdjust="spacingAndGlyphs">5</text>
<text x="329.31" y="551.8" font-family="&quot;Liberation Sans&quot;, sans-serif" font-size="14" fill="#111" text-anchor="middle" textLength="7.7" lengthAdjust="spacingAndGlyphs">6</text>
<text x="376.82" y="551.8" font-family="&quot;Liberation Sans&quot;, sans-serif" font-size="14" fill="#111" text-anchor="middle" textLength="7.7" lengthAdjust="spacingAndGlyphs">7</text>
<text x="424.33" y="551.8" font-family="&quot;Liberation Sans&quot;, sans-serif" font-size="14" fill="#111" text-anchor="middle" textLength="7.7" lengthAdjust="spacingAndGlyphs">8</text>
<text x="471.84" y="551.8" font-family="&quot;Liberation Sans&quot;, sans-serif" font-size="14" fill="#111" text-anchor="middle" textLength="7.7" lengthAdjust="spacingAndGlyphs">9</text>
<text x="519.34" y="551.8" font-family="&quot;Liberation Sans&quot;, sans-serif" font-size="14" fill="#111" text-anchor="middle" textLength="14.75" lengthAdjust="spacingAndGlyphs">10</text>
<text x="245.74" y="571.1" font-family="&quot;Liberation Serif&quot;, serif" font-size="15" fill="#000" text-anchor="start" textLength="70.82" lengthAdjust="spacingAndGlyphs">Time (s) (b)</text>
<text transform="translate(15.08,458.8) rotate(-90)" x="0" y="0" font-family="&quot;Liberation Serif&quot;, serif" font-size="16" fill="#000" text-anchor="start" textLength="37" lengthAdjust="spacingAndGlyphs">Power</text>
<text transform="translate(15.08,417.6) rotate(-90)" x="0" y="0" font-family="&quot;Liberation Serif&quot;, serif" font-size="16" fill="#000" text-anchor="start" textLength="21.9" lengthAdjust="spacingAndGlyphs">(W)</text>
<line x1="642.62" y1="340.7" x2="1121.64" y2="340.7" stroke="#000" stroke-width="2" stroke-linecap="butt" stroke-dasharray="5.615 5.615"/>
<line x1="642.62" y1="369.05" x2="1121.64" y2="369.05" stroke="#000" stroke-width="2" stroke-linecap="butt" stroke-dasharray="5.615 5.615"/>
<line x1="642.62" y1="397.4" x2="1121.64" y2="397.4" stroke="#000" stroke-width="2" stroke-linecap="butt" stroke-dasharray="5.615 5.615"/>
<line x1="642.62" y1="425.75" x2="1121.64" y2="425.75" stroke="#000" stroke-width="2" stroke-linecap="butt" stroke-dasharray="5.615 5.615"/>
<line x1="642.62" y1="454.1" x2="1121.64" y2="454.1" stroke="#000" stroke-width="2" stroke-linecap="butt" stroke-dasharray="5.615 5.615"/>
<line x1="642.62" y1="482.45" x2="1121.64" y2="482.45" stroke="#000" stroke-width="2" stroke-linecap="butt" stroke-dasharray="5.615 5.615"/>
<line x1="642.62" y1="510.8" x2="1121.64" y2="510.8" stroke="#000" stroke-width="2" stroke-linecap="butt" stroke-dasharray="5.615 5.615"/>
<line x1="722.95" y1="537.7" x2="722.95" y2="319" stroke="#000" stroke-width="2" stroke-linecap="butt" stroke-dasharray="5.615 5.615"/>
<line x1="810.82" y1="537.7" x2="810.82" y2="319" stroke="#000" stroke-width="2" stroke-linecap="butt" stroke-dasharray="5.615 5.615"/>
<line x1="898.69" y1="537.7" x2="898.69" y2="319" stroke="#000" stroke-width="2" stroke-linecap="butt" stroke-dasharray="5.615 5.615"/>
<line x1="986.56" y1="537.7" x2="986.56" y2="319" stroke="#000" stroke-width="2" stroke-linecap="butt" stroke-dasharray="5.615 5.615"/>
<line x1="1074.43" y1="537.7" x2="1074.43" y2="319" stroke="#000" stroke-width="2" stroke-linecap="butt" stroke-dasharray="5.615 5.615"/>
<line x1="722.95" y1="319" x2="722.95" y2="325" stroke="#000" stroke-width="1.6" stroke-linecap="butt"/>
<line x1="722.95" y1="537.7" x2="722.95" y2="531.7" stroke="#000" stroke-width="1.6" stroke-linecap="butt"/>
<line x1="810.82" y1="319" x2="810.82" y2="325" stroke="#000" stroke-width="1.6" stroke-linecap="butt"/>
<line x1="810.82" y1="537.7" x2="810.82" y2="531.7" stroke="#000" stroke-width="1.6" stroke-linecap="butt"/>
<line x1="898.69" y1="319" x2="898.69" y2="325" stroke="#000" stroke-width="1.6" stroke-linecap="butt"/>
<line x1="898.69" y1="537.7" x2="898.69" y2="531.7" stroke="#000" stroke-width="1.6" stroke-linecap="butt"/>
<line x1="986.56" y1="319" x2="986.56" y2="325" stroke="#000" stroke-width="1.6" stroke-linecap="butt"/>
<line x1="986.56" y1="537.7" x2="986.56" y2="531.7" stroke="#000" stroke-width="1.6" stroke-linecap="butt"/>
<line x1="1074.43" y1="319" x2="1074.43" y2="325" stroke="#000" stroke-width="1.6" stroke-linecap="butt"/>
<line x1="1074.43" y1="537.7" x2="1074.43" y2="531.7" stroke="#000" stroke-width="1.6" stroke-linecap="butt"/>
<line x1="642.62" y1="340.7" x2="647.54" y2="340.7" stroke="#000" stroke-width="2" stroke-linecap="butt"/>
<line x1="1121.64" y1="340.7" x2="1116.72" y2="340.7" stroke="#000" stroke-width="2" stroke-linecap="butt"/>
<line x1="642.62" y1="369.05" x2="647.54" y2="369.05" stroke="#000" stroke-width="2" stroke-linecap="butt"/>
<line x1="1121.64" y1="369.05" x2="1116.72" y2="369.05" stroke="#000" stroke-width="2" stroke-linecap="butt"/>
<line x1="642.62" y1="397.4" x2="647.54" y2="397.4" stroke="#000" stroke-width="2" stroke-linecap="butt"/>
<line x1="1121.64" y1="397.4" x2="1116.72" y2="397.4" stroke="#000" stroke-width="2" stroke-linecap="butt"/>
<line x1="642.62" y1="425.75" x2="647.54" y2="425.75" stroke="#000" stroke-width="2" stroke-linecap="butt"/>
<line x1="1121.64" y1="425.75" x2="1116.72" y2="425.75" stroke="#000" stroke-width="2" stroke-linecap="butt"/>
<line x1="642.62" y1="454.1" x2="647.54" y2="454.1" stroke="#000" stroke-width="2" stroke-linecap="butt"/>
<line x1="1121.64" y1="454.1" x2="1116.72" y2="454.1" stroke="#000" stroke-width="2" stroke-linecap="butt"/>
<line x1="642.62" y1="482.45" x2="647.54" y2="482.45" stroke="#000" stroke-width="2" stroke-linecap="butt"/>
<line x1="1121.64" y1="482.45" x2="1116.72" y2="482.45" stroke="#000" stroke-width="2" stroke-linecap="butt"/>
<line x1="642.62" y1="510.8" x2="647.54" y2="510.8" stroke="#000" stroke-width="2" stroke-linecap="butt"/>
<line x1="1121.64" y1="510.8" x2="1116.72" y2="510.8" stroke="#000" stroke-width="2" stroke-linecap="butt"/>
<polyline points="722.95,336.4 741.64,344.3 757.87,362.7 776.39,366.5 795.08,363.3 812.3,359.5 829.34,357.4 844.92,356 876.07,354.2 909.84,349.6 950.82,346.6 1000,344 1049.18,341.2 1081.97,339.8 1108.2,338.4 1114.75,337.6 1121.64,339.2" fill="none" stroke="#FF0000" stroke-width="2.2" stroke-linejoin="miter"/>
<polyline points="642.62,368.6 705.57,368.6 722.95,336.4 740.66,350 757.87,348.1 777.7,339.5 790.16,336.8 811.8,339 829.51,338 845.9,336.2 861.97,339 878.2,338.7 898.36,336.9 912.79,340.9 933.11,340.9 947.54,337.3 975.41,337.5 985.25,338.4 996.72,338.4 1004.92,336.8 1021.48,341.7 1055.57,336.8 1071.8,339 1107.7,338.4 1113.11,337.3 1121.64,341.1" fill="none" stroke="#0A8A0A" stroke-width="2.2" stroke-linejoin="miter"/>
<polyline points="722.95,336.4 740.66,395.9 758.52,502.6 775.74,535.7 792.62,470 806.07,420 812.3,399.7 829.34,370.3 846.39,355.1 863.61,348.1 882.3,343.7 900.82,340 918.03,338.4 934.43,337.2 950.82,336.3 983.61,335.8 1121.64,335.6" fill="none" stroke="#000" stroke-width="2.2" stroke-linejoin="miter"/>
<polyline points="642.62,367.5 705.57,367.5 722.95,336.4 739.18,335.6 1121.64,335.6" fill="none" stroke="#0000FF" stroke-width="2.3" stroke-linejoin="miter"/>
<line x1="642.62" y1="319" x2="1121.64" y2="319" stroke="#000" stroke-width="2" stroke-linecap="butt"/>
<line x1="642.62" y1="537.7" x2="1121.64" y2="537.7" stroke="#000" stroke-width="2" stroke-linecap="butt"/>
<line x1="642.62" y1="318" x2="642.62" y2="538.7" stroke="#000" stroke-width="2" stroke-linecap="butt"/>
<line x1="1121.64" y1="318" x2="1121.64" y2="538.7" stroke="#000" stroke-width="2" stroke-linecap="butt"/>
<text x="1013.11" y="529.2" font-family="&quot;Liberation Serif&quot;, serif" font-size="14" fill="#000" text-anchor="start" textLength="46.56" lengthAdjust="spacingAndGlyphs">Zoom 2</text>
<text x="638.36" y="344.7" font-family="&quot;Liberation Sans&quot;, sans-serif" font-size="14" fill="#111" text-anchor="end" textLength="26.72" lengthAdjust="spacingAndGlyphs">58.2</text>
<text x="638.36" y="373.05" font-family="&quot;Liberation Sans&quot;, sans-serif" font-size="14" fill="#111" text-anchor="end" textLength="14.75" lengthAdjust="spacingAndGlyphs">58</text>
<text x="638.36" y="401.4" font-family="&quot;Liberation Sans&quot;, sans-serif" font-size="14" fill="#111" text-anchor="end" textLength="26.72" lengthAdjust="spacingAndGlyphs">57.8</text>
<text x="638.36" y="429.75" font-family="&quot;Liberation Sans&quot;, sans-serif" font-size="14" fill="#111" text-anchor="end" textLength="26.72" lengthAdjust="spacingAndGlyphs">57.6</text>
<text x="638.36" y="458.1" font-family="&quot;Liberation Sans&quot;, sans-serif" font-size="14" fill="#111" text-anchor="end" textLength="26.72" lengthAdjust="spacingAndGlyphs">57.4</text>
<text x="638.36" y="486.45" font-family="&quot;Liberation Sans&quot;, sans-serif" font-size="14" fill="#111" text-anchor="end" textLength="26.72" lengthAdjust="spacingAndGlyphs">57.2</text>
<text x="638.36" y="514.8" font-family="&quot;Liberation Sans&quot;, sans-serif" font-size="14" fill="#111" text-anchor="end" textLength="14.75" lengthAdjust="spacingAndGlyphs">57</text>
<text x="722.95" y="553.8" font-family="&quot;Liberation Sans&quot;, sans-serif" font-size="14" fill="#111" text-anchor="middle" textLength="5.9" lengthAdjust="spacingAndGlyphs">7</text>
<text x="810.82" y="553.8" font-family="&quot;Liberation Sans&quot;, sans-serif" font-size="14" fill="#111" text-anchor="middle" textLength="31.97" lengthAdjust="spacingAndGlyphs">7.005</text>
<text x="898.69" y="553.8" font-family="&quot;Liberation Sans&quot;, sans-serif" font-size="14" fill="#111" text-anchor="middle" textLength="23.77" lengthAdjust="spacingAndGlyphs">7.01</text>
<text x="986.56" y="553.8" font-family="&quot;Liberation Sans&quot;, sans-serif" font-size="14" fill="#111" text-anchor="middle" textLength="32.62" lengthAdjust="spacingAndGlyphs">7.015</text>
<text x="1074.43" y="553.8" font-family="&quot;Liberation Sans&quot;, sans-serif" font-size="14" fill="#111" text-anchor="middle" textLength="24.92" lengthAdjust="spacingAndGlyphs">7.02</text>
<text x="840" y="572.9" font-family="&quot;Liberation Serif&quot;, serif" font-size="15" fill="#000" text-anchor="start" textLength="79.34" lengthAdjust="spacingAndGlyphs">Time (s) (b2)</text>
<text transform="translate(600.66,461) rotate(-90)" x="0" y="0" font-family="&quot;Liberation Serif&quot;, serif" font-size="16" fill="#000" text-anchor="start" textLength="37" lengthAdjust="spacingAndGlyphs">Power</text>
<text transform="translate(600.66,419.2) rotate(-90)" x="0" y="0" font-family="&quot;Liberation Serif&quot;, serif" font-size="16" fill="#000" text-anchor="start" textLength="21.9" lengthAdjust="spacingAndGlyphs">(W)</text>
</g>
</svg>
</body></html>
